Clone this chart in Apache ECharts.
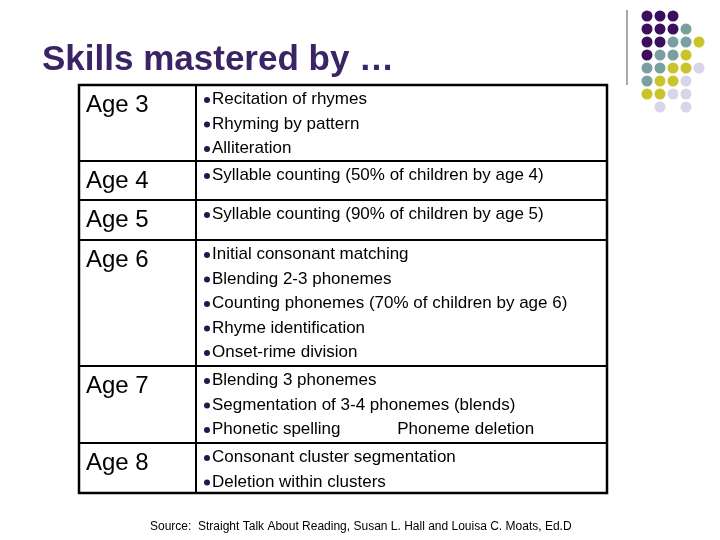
<!DOCTYPE html>
<html>
<head>
<meta charset="utf-8">
<script src="https://cdn.jsdelivr.net/npm/echarts@6/dist/echarts.min.js"></script>
<style>html,body{margin:0;background:#fff}#chart{width:720px;height:540px}</style>
</head>
<body>
<div id="chart"></div>
<script>
// 数据
const titleText = 'Skills mastered by …'
const ages = ['Age 3', 'Age 4', 'Age 5', 'Age 6', 'Age 7', 'Age 8']
const skills = [
  ['Recitation of rhymes', 'Rhyming by pattern', 'Alliteration'],
  ['Syllable counting (50% of children by age 4)'],
  ['Syllable counting (90% of children by age 5)'],
  ['Initial consonant matching', 'Blending 2-3 phonemes', 'Counting phonemes (70% of children by age 6)', 'Rhyme identification', 'Onset-rime division'],
  ['Blending 3 phonemes', 'Segmentation of 3-4 phonemes (blends)', 'Phonetic spelling            Phoneme deletion'],
  ['Consonant cluster segmentation', 'Deletion within clusters']
]
const rowEdges = [85, 161, 200, 240, 366, 443, 493]
const sourceText = 'Source:  Straight Talk About Reading, Susan L. Hall and Louisa C. Moats, Ed.D'
// 装饰圆点：0 紫 1 青 2 黄 3 淡紫，-1 空
const dotRows = [
  [0, 0, 0, -1, -1],
  [0, 0, 0, 1, -1],
  [0, 0, 1, 1, 2],
  [0, 1, 1, 2, -1],
  [1, 1, 2, 2, 3],
  [1, 2, 2, 3, -1],
  [2, 2, 3, 3, -1],
  [-1, 3, -1, 3, -1]
]
const dotColors = ['#3b0f5e', '#7a9fa0', '#c9c42a', '#d6d6e8']

const chart = echarts.init(document.getElementById('chart'))
const font = '"Liberation Sans", Arial, sans-serif'
const left = 79, mid = 196, right = 607
const els = []

els.push({ type: 'text', left: 42, top: 43, style: { text: titleText, font: 'bold 35px ' + font, fill: '#3a2466' } })
els.push({ type: 'line', shape: { x1: 627, y1: 10, x2: 627, y2: 85 }, style: { stroke: '#555', lineWidth: 1 } })

dotRows.forEach((row, r) => row.forEach((c, k) => {
  if (c < 0) return
  els.push({ type: 'circle', shape: { cx: 647 + k * 13, cy: 16 + r * 13, r: 5.5 }, style: { fill: dotColors[c] } })
}))

// 表格
els.push({ type: 'rect', shape: { x: left, y: rowEdges[0], width: right - left, height: rowEdges[6] - rowEdges[0] }, style: { fill: 'none', stroke: '#000', lineWidth: 2.5 } })
els.push({ type: 'line', shape: { x1: mid, y1: rowEdges[0], x2: mid, y2: rowEdges[6] }, style: { stroke: '#000', lineWidth: 2 } })
ages.forEach((age, i) => {
  const y0 = rowEdges[i]
  if (i > 0) els.push({ type: 'line', shape: { x1: left, y1: y0, x2: right, y2: y0 }, style: { stroke: '#000', lineWidth: 2 } })
  els.push({ type: 'text', left: 86, top: y0 + 8, style: { text: age, font: '24px ' + font, fill: '#000' } })
  skills[i].forEach((s, j) => {
    const ty = y0 + 15 + j * 24.5
    els.push({ type: 'circle', shape: { cx: 207, cy: ty, r: 3 }, style: { fill: '#2a1450' } })
    els.push({ type: 'text', left: 212, top: ty - 9, style: { text: s, font: '17px ' + font, fill: '#000' } })
  })
})

els.push({ type: 'text', left: 150, top: 521, style: { text: sourceText, font: '12px ' + font, fill: '#000' } })

chart.setOption({ animation: false, graphic: els })
</script>
</body>
</html>
